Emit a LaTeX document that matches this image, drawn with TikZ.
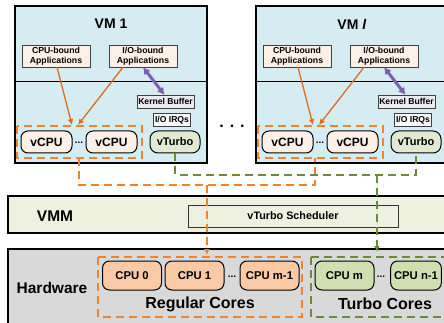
\documentclass[tikz,border=0pt]{standalone}
\usepackage{fontspec}
\setmainfont{Liberation Sans}
\usetikzlibrary{arrows.meta, positioning}

\definecolor{vmblue}{RGB}{214,236,243}
\definecolor{apppeach}{RGB}{253,240,230}
\definecolor{cpupeach}{RGB}{249,202,165}
\definecolor{kbuf}{RGB}{238,234,244}
\definecolor{turbogreen}{RGB}{226,233,210}
\definecolor{coregreen}{RGB}{207,223,175}
\definecolor{vmmfill}{RGB}{238,241,224}
\definecolor{hwgray}{RGB}{217,217,217}
\definecolor{orangeline}{RGB}{240,132,44}
\definecolor{orangearrow}{RGB}{222,110,30}
\definecolor{greenline}{RGB}{106,140,58}
\definecolor{purplearrow}{RGB}{125,95,178}

\begin{document}
\begin{tikzpicture}[
    x=1pt, y=-1pt,
    >={Latex[width=6pt, length=6pt]},
    every node/.style={font=\bfseries},
    appbox/.style={draw=black!75, fill=apppeach, align=center, inner sep=2pt,
        minimum width=68pt, minimum height=22pt, font=\bfseries\fontsize{8.7}{9.6}\selectfont},
    smallbox/.style={draw=black!75, inner sep=1.5pt, minimum height=13pt,
        font=\bfseries\fontsize{8.6}{9}\selectfont},
    vcpu/.style={draw=black, line width=1pt, fill=apppeach, rounded corners=7pt, minimum width=51pt,
        minimum height=22pt, font=\bfseries\fontsize{12}{12}\selectfont},
    vturbo/.style={draw=black, line width=1pt, fill=turbogreen, rounded corners=8pt, minimum width=50pt,
        minimum height=22pt, font=\bfseries\fontsize{11}{11}\selectfont},
    core/.style={draw=black, line width=1pt, rounded corners=7pt, minimum width=59pt, minimum height=29pt,
        font=\bfseries\fontsize{11.3}{11.3}\selectfont},
    odash/.style={draw=orangeline, line width=2.2pt, dash pattern=on 8pt off 5pt},
    gdash/.style={draw=greenline, line width=2.2pt, dash pattern=on 8pt off 5pt},
]
\useasboundingbox (0,0) rectangle (444,323);

% VM boxes
\foreach \dx/\vmname in {0/{VM 1}, 241/{VM \textit{l}}} {
  \draw[fill=vmblue, line width=1.3pt] (15+\dx,6) rectangle (207+\dx+\dx/241*60,163);
  \draw (15+\dx,81) -- (207+\dx+\dx/241*60,81);
  \node[font=\bfseries\fontsize{14}{14}\selectfont] at (111+\dx,24) {\vmname};
}

% guest 1
\node[appbox] (cpuapp1) at (56,56) {CPU-bound\\Applications};
\node[appbox] (ioapp1) at (143,56) {I/O-bound\\Applications};
\node[smallbox, fill=kbuf] (kbuf1) at (165.5,101.5) {Kernel Buffer};
\node[smallbox, fill=white!95!gray] (irq1) at (172,120) {I/O IRQs};
\node[vcpu] (vcpua1) at (46.5,142) {vCPU};
\node[vcpu] (vcpub1) at (111.5,142) {vCPU};
\node (dots1) at (79,143) {...};
\node[vturbo] (vturbo1) at (175,142) {vTurbo};
\coordinate (pool1) at (75,125);

% guest l
\node[appbox] (cpuapp2) at (297,56) {CPU-bound\\Applications};
\node[appbox] (ioapp2) at (384,56) {I/O-bound\\Applications};
\node[smallbox, fill=kbuf] (kbuf2) at (406.5,101.5) {Kernel Buffer};
\node[smallbox, fill=white!95!gray] (irq2) at (413,120) {I/O IRQs};
\node[vcpu] (vcpua2) at (287.5,142) {vCPU};
\node[vcpu] (vcpub2) at (352.5,142) {vCPU};
\node (dots2) at (320,143) {...};
\node[vturbo] (vturbo2) at (416,142) {vTurbo};
\coordinate (pool2) at (316,125);

\node[font=\bfseries\fontsize{16}{16}\selectfont] (vmdots) at (232,126) {. . .};

% vCPU pools
\draw[odash] (17,126) rectangle (142,158);
\draw[odash] (258,126) rectangle (383,158);

% application arrows
\foreach \g in {1,2} {
  \draw[->, draw=orangearrow, fill=orangearrow, line width=1.3pt] ([xshift=1pt]cpuapp\g.south) -- ([xshift=-3pt]pool\g);
  \draw[->, draw=orangearrow, fill=orangearrow, line width=1.3pt] ([xshift=-20pt]ioapp\g.south) -- ([xshift=3pt]pool\g);
  \draw[{Latex[width=8pt, length=7pt]}-{Latex[width=8pt, length=7pt]}, purplearrow, line width=3pt]
      (ioapp\g.south) -- ([xshift=-1pt]kbuf\g.north);
}

% VMM
\draw[fill=vmmfill, line width=1.8pt] (8,196) rectangle (450,233);
\node[font=\bfseries\fontsize{15.5}{15.5}\selectfont] (vmm) at (55,216) {VMM};
\node[draw=black!80, line width=1pt, fill=vmmfill, minimum width=210pt, minimum height=22pt,
    font=\bfseries\fontsize{10.8}{10.8}\selectfont] (sched) at (293,216) {vTurbo Scheduler};

% hardware
\draw[fill=hwgray, line width=1.8pt] (8,249) rectangle (450,330);
\node[font=\bfseries\fontsize{15.5}{15.5}\selectfont] (hw) at (52,288) {Hardware};
\draw[odash] (98,257) rectangle (302,317);
\draw[gdash] (311,257) rectangle (450,317);
\node[core, fill=cpupeach] (cpu0) at (132,275.5) {CPU 0};
\node[core, fill=cpupeach] (cpu1) at (194.5,275.5) {CPU 1};
\node (dots3) at (232,277) {...};
\node[core, fill=cpupeach] (cpum1) at (269.5,275.5) {CPU m-1};
\node[core, fill=coregreen] (cpum) at (344.5,275.5) {CPU m};
\node (dots4) at (381,277) {...};
\node[core, fill=coregreen, minimum width=50pt] (cpun1) at (416,275.5) {CPU n-1};
\node[font=\bfseries\fontsize{16}{16}\selectfont] (regular) at (200,304) {Regular Cores};
\node[font=\bfseries\fontsize{16}{16}\selectfont] (turbo) at (385,304) {Turbo Cores};

% vCPU paths to regular cores
\coordinate (obend1) at (79,185);
\coordinate (obend2) at (315,185);
\coordinate (ojoin) at (207,185);
\draw[odash] (79,158) -- (obend1) -- (obend2) -- (315,158);
\draw[odash, ->, fill=orangeline] (ojoin) -- (207,255);

% vTurbo paths to turbo cores
\coordinate (gbend1) at (vturbo1.south |- 0,175);
\coordinate (gbend2) at (vturbo2.south |- 0,175);
\coordinate (gjoin) at (377,175);
\draw[gdash] (vturbo1.south) -- (gbend1) -- (gbend2) -- (vturbo2.south);
\draw[gdash, ->, fill=greenline] (gjoin) -- (377,252);
\end{tikzpicture}
\end{document}
